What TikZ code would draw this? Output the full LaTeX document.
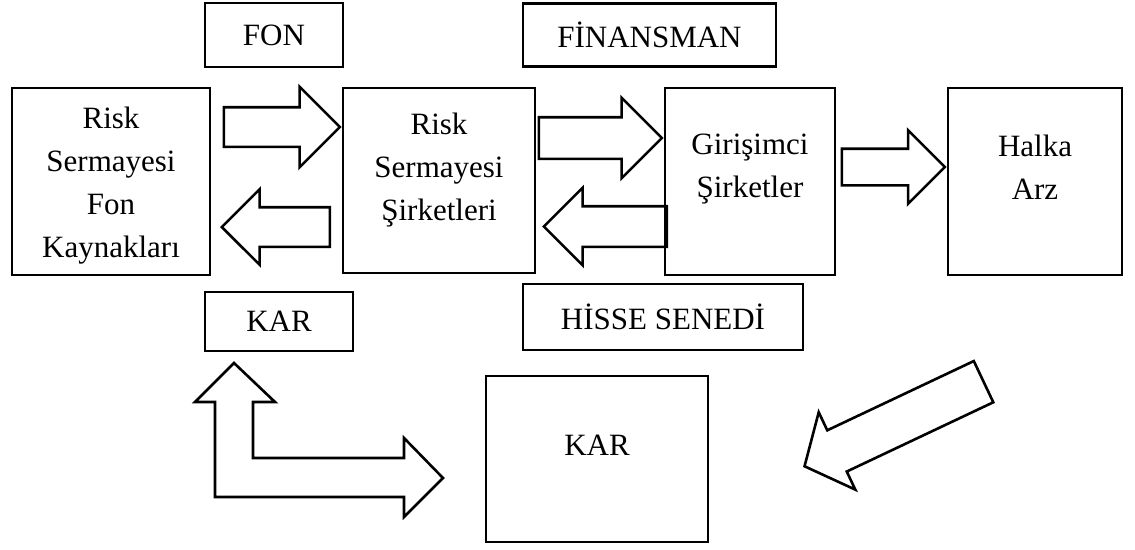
\documentclass[tikz,border=0pt]{standalone}
\usepackage{fontspec}
\setmainfont{Liberation Serif}
\usetikzlibrary{shapes,arrows}

\begin{document}
\begin{tikzpicture}[x=1pt,y=-1pt,line width=2.6pt]
	\useasboundingbox (0,0) rectangle (1135,549);
	\fontsize{31pt}{43pt}\selectfont

	\def \toprow{35}
	\def \midrow{181.5}

	\tikzstyle{box}=[draw=black,inner sep=0pt]
	\tikzstyle{txt}=[align=center,inner sep=0pt]
	\tikzstyle{fat-arrow}=[single arrow,draw=black,inner xsep=0pt,minimum width=0pt,anchor=tip]

	% top labels
	\node[box,minimum width=138pt,minimum height=64pt] 	(fon)	at (274,\toprow)	{FON};
	\node[box,minimum width=253pt,minimum height=63pt] 	(fin)	at (649.5,\toprow)	{FİNANSMAN};

	% main row
	\node[box,minimum width=198pt,minimum height=187pt] 	(rsfk)	at (111,\midrow)	{};
	\node[txt] 	(rsfk-t)	at ([yshift=-4pt]rsfk.center)	{Risk\\Sermayesi\\Fon\\Kaynakları};
	\node[box,minimum width=192pt,minimum height=185pt] 	(rss)	at (439,180.5)	{};
	\node[txt] 	(rss-t)	at ([yshift=10pt]rss.center)	{Risk\\Sermayesi\\Şirketleri};
	\node[box,minimum width=170pt,minimum height=187pt] 	(gir)	at (750,\midrow)	{};
	\node[txt] 	(gir-t)	at ([yshift=12pt]gir.center)	{Girişimci\\Şirketler};
	\node[box,minimum width=174pt,minimum height=187pt] 	(halka)	at (1035,\midrow)	{};
	\node[txt] 	(halka-t)	at ([yshift=14pt]halka.center)	{Halka\\Arz};

	% lower labels
	\node[box,minimum width=148pt,minimum height=59pt] 	(kar)	at (279,321.5)	{KAR};
	\node[box,minimum width=280pt,minimum height=66pt] 	(hisse)	at (663,317)	{HİSSE SENEDİ};
	\node[box,minimum width=222pt,minimum height=166pt] 	(karbig)	at (597,459)	{};
	\node[txt] 	(karbig-t)	at ([yshift=14pt]karbig.center)	{KAR};

	% block arrows
	\node[fat-arrow,minimum height=116pt,inner ysep=18.5pt,single arrow head extend=20.5pt] 	(fonarr)	at (rss.west |- 0,127)	{};
	\node[fat-arrow,rotate=180,minimum height=108pt,inner ysep=18.5pt,single arrow head extend=18pt] 	(kararr)	at (220,227)	{};
	\node[fat-arrow,minimum height=123pt,inner ysep=19.5pt,single arrow head extend=19.5pt] 	(finarr)	at (gir.west |- 0,138)	{};
	\node[fat-arrow,rotate=180,minimum height=123pt,inner ysep=19pt,single arrow head extend=18.5pt] 	(hissearr)	at (542,226.5)	{};
	\node[fat-arrow,minimum height=103pt,inner ysep=17pt,single arrow head extend=18.5pt] 	(halkaarr)	at (halka.west |- 0,167)	{};
	\node[fat-arrow,rotate=205.3,single arrow tip angle=100,minimum height=198pt,inner ysep=21.5pt,single arrow head extend=20pt] 	(geriarr)	at (803,467)	{};

	% double arrow kar <-> kar
	\draw (234,363) -- (275,402) -- (253,402) -- (253,458) -- (404,458) -- (404,438)
		-- (443,478) -- (404,517) -- (404,497) -- (215,497) -- (215,402) -- (195,402) -- cycle;
\end{tikzpicture}
\end{document}
